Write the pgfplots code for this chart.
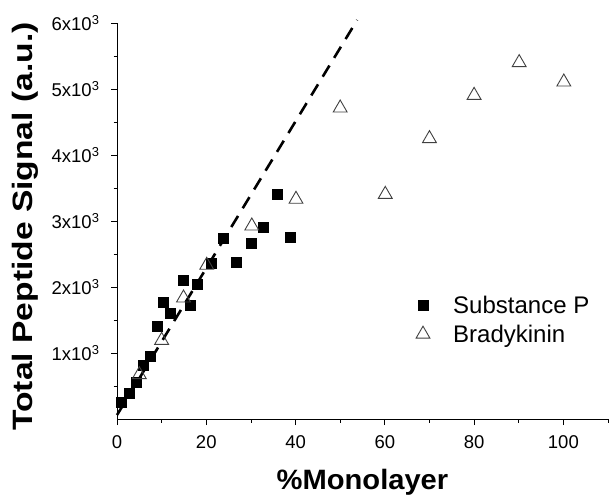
\documentclass[border=0pt]{standalone}
\usepackage{fontspec}
\setmainfont{Liberation Sans}
\usepackage{graphicx}
\usepackage{pgfplots}
\pgfplotsset{compat=1.18}
\begin{document}
\begin{tikzpicture}[x=1pt,y=1pt]
\useasboundingbox (0,0) rectangle (609,495);
\begin{axis}[
  at={(117pt,76pt)}, anchor=south west,
  width=491pt, height=396pt, scale only axis,
  xmin=0, xmax=110, ymin=0, ymax=6000,
  axis x line*=bottom, axis y line*=left,
  axis line style={-, line width=0.8pt},
  tick style={line width=0.8pt, black},
  tick align=outside,
  major tick length=6pt, minor tick length=3.5pt,
  xtick={0,20,...,100}, minor xtick={10,30,...,110},
  ytick={1000,2000,...,6000}, minor ytick={500,1500,...,5500},
  yticklabels={1x10\textsuperscript{3},2x10\textsuperscript{3},3x10\textsuperscript{3},4x10\textsuperscript{3},5x10\textsuperscript{3},6x10\textsuperscript{3}},
  tick label style={font=\fontsize{18.5}{20}\selectfont},
  yticklabel style={xshift=-8pt},
  xticklabel style={yshift=-7pt},
  /pgf/number format/assume math mode=true,
  xlabel={\scalebox{1.04}[1]{\fontsize{28}{30}\selectfont\bfseries\%Monolayer}},
  ylabel={\scalebox{1.2}[1]{\fontsize{28}{30}\selectfont\bfseries Total Peptide Signal (a.u.)}},
  xlabel style={at={(axis description cs:0.5,-0.179)}, anchor=base},
  ylabel style={at={(axis description cs:-0.1874,0.486)}, anchor=center},
  clip=false,
  legend cell align=left,
  legend image code/.code={\path (0pt,0pt) (36pt,0pt); \draw[#1] plot coordinates {(8pt,0pt)};},
  legend style={at={(axis cs:66,1930)}, anchor=north west, draw=none, fill=none,
    font=\fontsize{24}{26}\selectfont, row sep=6pt},
]
\addplot[only marks, mark=square*, mark size=5pt, black] coordinates {
(1.05,262) (2.8,389) (4.4,565) (5.9,818) (7.4,944) (8.9,1409) (10.4,1777)
(11.9,1601) (14.9,2096) (16.4,1727) (17.9,2045) (21.2,2359) (23.8,2738)
(26.8,2383) (30.0,2662) (32.8,2899) (36.0,3404) (38.8,2750)
};
\addlegendentry{Substance P}
\addplot[only marks, mark=triangle, mark size=8pt, mark options={line width=0.9pt}, black!75] coordinates {
(5,672) (10,1192) (14.9,1834) (20.1,2329) (30.2,2925) (40.1,3329)
(50,4712) (60.1,3404) (70,4248) (80,4904) (90.1,5400) (100.1,5106)
};
\addlegendentry{Bradykinin}
\addplot[forget plot, black, line width=2.6pt, dash pattern=on 13pt off 9pt] coordinates {(0,60) (53.8,6045)};
\end{axis}
\end{tikzpicture}
\end{document}
